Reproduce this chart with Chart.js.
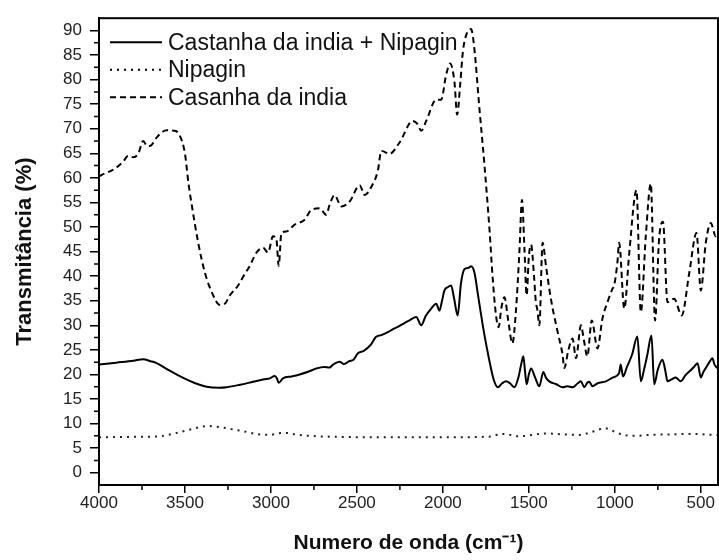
<!DOCTYPE html>
<html>
<head>
<meta charset="utf-8">
<script src="https://cdn.jsdelivr.net/npm/chart.js@4.4.1/dist/chart.umd.min.js"></script>
<style>
  html, body { margin: 0; padding: 0; background: #fff; }
  #wrap { width: 719px; height: 560px; }
</style>
</head>
<body>
<div id="wrap"><canvas id="mainChart" width="719" height="560"></canvas></div>
<script>
// ---- data ----
const seriesNames = ['Castanha da india + Nipagin', 'Nipagin', 'Casanha da india'];

const mixWave = [4000, 3900, 3800, 3743, 3700, 3665, 3600, 3510, 3440, 3375, 3300, 3258, 3180, 3104, 3040, 3007, 2978, 2965, 2955, 2930, 2880, 2833, 2780, 2736, 2690, 2660, 2639, 2600, 2575, 2545, 2520, 2494, 2460, 2420, 2390, 2358, 2320, 2290, 2252, 2200, 2155, 2126, 2100, 2068, 2039, 2020, 2005, 1991, 1970, 1952, 1935, 1914, 1895, 1875, 1850, 1836, 1817, 1795, 1768, 1745, 1729, 1705, 1681, 1655, 1633, 1610, 1584, 1560, 1545, 1532, 1522, 1513, 1500, 1487, 1465, 1439, 1416, 1400, 1381, 1340, 1304, 1275, 1246, 1215, 1197, 1178, 1160, 1149, 1130, 1100, 1052, 1010, 975, 966, 952, 930, 900, 869, 849, 830, 811, 787, 771, 750, 723, 705, 694, 670, 646, 617, 590, 567, 540, 519, 500, 485, 471, 450, 433, 420, 405];
const mixT = [22.0, 22.4, 22.8, 23.1, 22.7, 22.3, 21.0, 19.3, 18.2, 17.5, 17.3, 17.4, 17.9, 18.5, 19.0, 19.2, 19.7, 19.2, 18.3, 19.2, 19.6, 20.0, 20.6, 21.2, 21.5, 21.4, 22.0, 22.6, 22.1, 22.7, 23.0, 24.3, 24.8, 26.0, 27.6, 28.0, 28.6, 29.2, 29.9, 30.9, 31.7, 30.0, 31.9, 33.4, 34.4, 33.0, 35.0, 37.1, 37.8, 38.1, 35.5, 32.0, 38.5, 41.4, 41.7, 42.0, 40.8, 36.0, 30.0, 25.5, 22.7, 19.0, 17.4, 18.2, 18.6, 18.2, 17.4, 19.5, 22.0, 23.7, 20.5, 18.0, 20.0, 21.2, 19.5, 17.6, 20.5, 19.3, 18.6, 18.0, 17.4, 17.6, 17.4, 18.2, 18.6, 17.4, 18.3, 18.5, 17.6, 18.2, 18.6, 19.4, 20.3, 22.0, 19.6, 21.5, 24.0, 27.7, 18.6, 21.0, 24.0, 27.9, 18.0, 21.0, 23.0, 20.5, 18.6, 19.0, 19.4, 18.6, 19.8, 20.6, 21.5, 22.3, 19.4, 20.5, 21.3, 22.5, 23.3, 22.0, 21.3];

const nipaginWave = [4000, 3800, 3653, 3600, 3561, 3469, 3400, 3365, 3284, 3220, 3168, 3087, 3006, 2960, 2914, 2860, 2775, 2600, 2405, 2100, 1758, 1700, 1671, 1620, 1574, 1516, 1460, 1400, 1300, 1207, 1150, 1100, 1062, 1030, 994, 935, 880, 800, 672, 549, 418, 400];
const nipaginT = [7.2, 7.3, 7.4, 7.7, 8.0, 8.8, 9.4, 9.5, 9.2, 8.8, 8.5, 7.9, 7.7, 8.0, 8.1, 7.8, 7.5, 7.3, 7.2, 7.2, 7.3, 7.5, 7.9, 7.8, 7.4, 7.5, 7.8, 8.0, 7.8, 7.7, 8.1, 8.7, 9.1, 8.8, 8.2, 7.6, 7.5, 7.7, 7.8, 7.9, 7.7, 7.7];

const castanhaWave = [4000, 3984, 3907, 3860, 3830, 3800, 3772, 3743, 3720, 3704, 3665, 3630, 3607, 3559, 3530, 3500, 3480, 3462, 3423, 3384, 3336, 3300, 3268, 3239, 3191, 3160, 3123, 3084, 3046, 3017, 2988, 2968, 2955, 2939, 2910, 2862, 2804, 2765, 2717, 2678, 2659, 2630, 2591, 2542, 2484, 2455, 2416, 2378, 2358, 2310, 2252, 2175, 2146, 2126, 2097, 2039, 2010, 1981, 1958, 1933, 1917, 1898, 1884, 1865, 1836, 1817, 1788, 1759, 1729, 1710, 1691, 1676, 1660, 1642, 1620, 1596, 1575, 1555, 1540, 1525, 1513, 1500, 1487, 1470, 1460, 1450, 1439, 1420, 1400, 1372, 1333, 1304, 1294, 1270, 1246, 1226, 1197, 1180, 1160, 1134, 1101, 1072, 1040, 1014, 1004, 985, 975, 945, 916, 874, 849, 820, 791, 766, 743, 720, 694, 655, 611, 567, 525, 500, 471, 442, 413, 400];
const castanhaT = [60.3, 60.6, 61.9, 63.3, 64.5, 64.2, 64.9, 67.5, 66.5, 66.5, 68.2, 69.4, 69.7, 69.6, 68.6, 64.9, 59.0, 54.8, 46.8, 40.7, 36.1, 34.2, 34.4, 36.1, 38.1, 40.0, 42.1, 44.8, 45.8, 44.8, 48.1, 47.4, 42.1, 48.8, 49.1, 50.5, 51.5, 53.5, 53.8, 52.5, 54.5, 56.5, 54.2, 55.2, 58.5, 56.5, 58.2, 61.5, 65.5, 64.9, 67.2, 71.6, 70.9, 69.6, 71.6, 75.9, 75.9, 81.0, 83.3, 79.6, 72.9, 79.6, 85.6, 89.0, 90.3, 86.3, 74.3, 62.9, 49.5, 39.4, 32.0, 29.6, 33.5, 35.7, 31.0, 26.3, 33.0, 45.0, 55.5, 45.0, 36.1, 44.0, 46.4, 40.0, 35.0, 33.0, 30.0, 46.8, 42.0, 35.4, 28.7, 24.0, 21.3, 25.0, 27.3, 23.3, 30.0, 27.0, 23.7, 31.0, 25.3, 31.4, 35.0, 37.4, 38.1, 42.8, 46.8, 33.4, 44.8, 57.5, 32.7, 48.1, 58.8, 31.0, 47.4, 51.1, 34.7, 35.4, 32.0, 40.7, 48.8, 37.1, 46.8, 50.8, 48.1, 49.0];

const xTickValues = [4000, 3500, 3000, 2500, 2000, 1500, 1000, 500];
const xMinorValues = [3750, 3250, 2750, 2250, 1750, 1250, 750];
const yTickValues = [0, 5, 10, 15, 20, 25, 30, 35, 40, 45, 50, 55, 60, 65, 70, 75, 80, 85, 90];
const yMinorValues = [2.5, 7.5, 12.5, 17.5, 22.5, 27.5, 32.5, 37.5, 42.5, 47.5, 52.5, 57.5, 62.5, 67.5, 72.5, 77.5, 82.5, 87.5];

const FONT = "'Liberation Sans', Arial, sans-serif";
const pts = (xs, ys) => xs.map((x, i) => ({ x, y: ys[i] }));

// frame, minor ticks and in-plot legend
const extras = {
  id: 'extras',
  afterDraw(chart) {
    const { ctx, chartArea: a, scales: { x, y } } = chart;
    ctx.save();
    ctx.strokeStyle = '#000';
    ctx.lineWidth = 2;
    ctx.strokeRect(a.left, a.top, a.right - a.left, a.bottom - a.top);
    ctx.lineWidth = 1.5;
    ctx.beginPath();
    xMinorValues.forEach(v => { const px = x.getPixelForValue(v); ctx.moveTo(px, a.bottom); ctx.lineTo(px, a.bottom + 5); });
    yMinorValues.forEach(v => { const py = y.getPixelForValue(v); ctx.moveTo(a.left, py); ctx.lineTo(a.left - 5, py); });
    ctx.stroke();

    ctx.font = `23px ${FONT}`;
    ctx.fillStyle = '#111';
    ctx.textBaseline = 'middle';
    chart.data.datasets.forEach((ds, i) => {
      const ly = a.top + 24 + i * 27.5;
      const lx = a.left + 11;
      ctx.lineWidth = ds.borderWidth;
      ctx.setLineDash(ds.borderDash || []);
      ctx.beginPath(); ctx.moveTo(lx, ly); ctx.lineTo(lx + 52, ly); ctx.stroke();
      ctx.setLineDash([]);
      ctx.fillText(ds.label, lx + 58, ly + 1);
    });
    ctx.restore();
  }
};

new Chart(document.getElementById('mainChart').getContext('2d'), {
  type: 'line',
  data: {
    datasets: [
      { label: seriesNames[0], data: pts(mixWave, mixT), borderColor: '#000', borderWidth: 2, borderDash: [] },
      { label: seriesNames[1], data: pts(nipaginWave, nipaginT), borderColor: '#222', borderWidth: 2, borderDash: [2, 5] },
      { label: seriesNames[2], data: pts(castanhaWave, castanhaT), borderColor: '#000', borderWidth: 2, borderDash: [6, 4] },
    ],
  },
  options: {
    responsive: false, animation: false,
    layout: { padding: { top: 13, right: 1, left: 0, bottom: 0 } },
    elements: { point: { radius: 0 }, line: { cubicInterpolationMode: 'monotone', fill: false } },
    plugins: { legend: { display: false }, tooltip: { enabled: false } },
    scales: {
      x: {
        type: 'linear', reverse: true, min: 400, max: 4000,
        afterBuildTicks: s => { s.ticks = xTickValues.map(v => ({ value: v })); },
        afterFit: s => { s.height = 75; },
        grid: { drawOnChartArea: false, color: '#000', tickLength: 8, lineWidth: 1.5 },
        border: { color: '#000', width: 2 },
        ticks: { color: '#222', font: { family: FONT, size: 17 }, padding: 0, maxRotation: 0, callback: v => String(v) },
        title: { display: true, text: 'Numero de onda (cm⁻¹)', color: '#111', font: { family: FONT, size: 21, weight: 'bold' }, padding: { top: 0, bottom: 4 } },
      },
      y: {
        type: 'linear', min: -2.5, max: 92.5,
        afterBuildTicks: s => { s.ticks = yTickValues.map(v => ({ value: v })); },
        afterFit: s => { s.width = 99; },
        grid: { drawOnChartArea: false, color: '#000', tickLength: 9, lineWidth: 1.5 },
        border: { color: '#000', width: 2 },
        ticks: { color: '#222', font: { family: FONT, size: 17 }, padding: 8, callback: v => String(v) },
        title: { display: true, text: 'Transmitância (%)', color: '#111', font: { family: FONT, size: 22, weight: 'bold' }, padding: { top: 12, bottom: 0 } },
      },
    },
  },
  plugins: [extras],
});
</script>
</body>
</html>
